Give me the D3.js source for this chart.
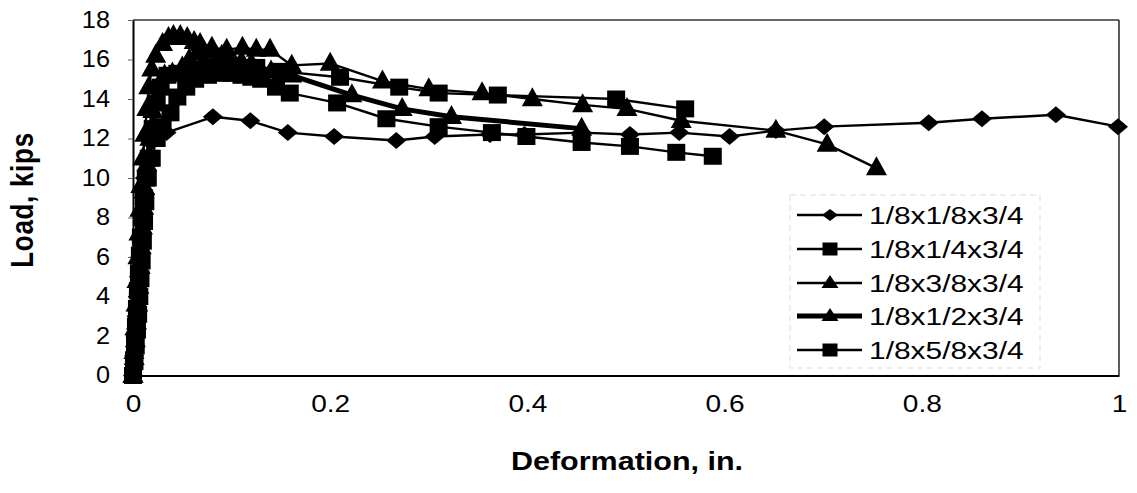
<!DOCTYPE html>
<html><head><meta charset="utf-8">
<script src="https://cdn.jsdelivr.net/npm/d3@7"></script>
<style>
html,body{margin:0;padding:0;background:#fff;}
svg{display:block;font-family:"Liberation Sans",Arial,sans-serif;}
</style></head>
<body><svg id="c" width="1137" height="493"></svg>
<script>
// ---- data (deformation in., load kips) ----
const seriesNames = ["1/8x1/8x3/4","1/8x1/4x3/4","1/8x3/8x3/4","1/8x1/2x3/4","1/8x5/8x3/4"];
const def1 = [0,0.0012,0.0024,0.0036,0.0048,0.006,0.0072,0.0084,0.0096,0.0108,0.012,0.014,0.018,0.034,0.081,0.119,0.157,0.204,0.267,0.306,0.362,0.397,0.455,0.504,0.554,0.605,0.652,0.701,0.807,0.861,0.936,0.999];
const load1= [0,1,2,3,4,5,6,7,8,9,10,11,11.8,12.3,13.1,12.9,12.3,12.1,11.9,12.1,12.2,12.2,12.3,12.2,12.3,12.1,12.4,12.6,12.8,13.0,13.2,12.6];
const def2 = [0,0.001,0.002,0.003,0.004,0.005,0.006,0.007,0.008,0.009,0.011,0.013,0.016,0.020,0.024,0.028,0.035,0.045,0.055,0.065,0.075,0.090,0.105,0.125,0.150,0.210,0.270,0.310,0.370,0.490,0.560];
const load2= [0,0.8,1.6,2.5,3.4,4.3,5.2,6.1,7,8,9,10,11,12.5,13.8,14.6,15.2,15.3,15.4,15.5,15.6,15.8,15.7,15.6,15.4,15.1,14.6,14.3,14.2,14.0,13.5];
const def3 = [0,0.001,0.002,0.003,0.004,0.005,0.006,0.007,0.008,0.010,0.012,0.014,0.016,0.019,0.023,0.030,0.036,0.041,0.048,0.055,0.062,0.068,0.080,0.095,0.111,0.125,0.139,0.161,0.200,0.253,0.300,0.354,0.405,0.456,0.501,0.556,0.652,0.704,0.754];
const load3= [0,1.2,2.4,3.6,4.8,6,7.2,8.4,9.6,11,12.2,13.5,14.6,15.5,16.2,16.8,17.1,17.2,17.2,17.1,16.9,16.8,16.6,16.5,16.6,16.5,16.5,15.7,15.8,14.9,14.5,14.3,14.0,13.7,13.5,12.9,12.4,11.7,10.5];
const def4 = [0,0.0012,0.0024,0.0036,0.0048,0.006,0.0072,0.0084,0.0096,0.0108,0.012,0.014,0.017,0.020,0.025,0.032,0.040,0.050,0.057,0.065,0.072,0.080,0.090,0.100,0.110,0.120,0.140,0.161,0.222,0.273,0.323,0.455];
const load4= [0,0.9,1.8,2.7,3.6,4.5,5.5,6.5,7.5,8.5,9.5,10.7,12,13.4,14.6,15.2,15.3,15.6,16.0,16.3,16.4,16.4,16.2,16.0,15.9,15.8,15.4,15.2,14.2,13.5,13.1,12.5];
const def5 = [0,0.0015,0.0028,0.004,0.0052,0.0064,0.0076,0.0088,0.01,0.0112,0.0125,0.015,0.019,0.024,0.030,0.038,0.045,0.054,0.063,0.076,0.090,0.100,0.110,0.120,0.130,0.145,0.159,0.207,0.257,0.310,0.364,0.399,0.455,0.504,0.551,0.588];
const load5= [0,0.7,1.5,2.3,3.1,4,4.9,5.8,6.8,7.8,8.8,10,11,12,12.6,13.3,14.1,14.6,15.0,15.2,15.3,15.3,15.2,15.1,15.0,14.6,14.3,13.8,13.0,12.6,12.3,12.1,11.8,11.6,11.3,11.1];
const xTicks = [0,0.2,0.4,0.6,0.8,1];
const yTicks = [0,2,4,6,8,10,12,14,16,18];
const markerTypes = ["diamond","square","triangle","triangle","square"];
const lineWidths = [2.4,2.4,2.4,5,2.4];

const series = seriesNames.map((n,i)=>({
  name:n,
  pts:[def1,def2,def3,def4,def5][i].map((d,j)=>({d, l:[load1,load2,load3,load4,load5][i][j]})),
  marker:markerTypes[i], lw:lineWidths[i]
}));

const svg = d3.select("#c");
const L=133, R=1119, T=20, B=375.5;
const x = d3.scaleLinear().domain([0,1]).range([L,R]);
const y = d3.scaleLinear().domain([0,18]).range([B,T]);

function stretch(sel,k){
  sel.each(function(){
    const len=this.getComputedTextLength();
    d3.select(this).attr("textLength",len*k).attr("lengthAdjust","spacingAndGlyphs");
  });
}

// frame (top & right)
svg.append("line").attr("x1",L).attr("x2",R).attr("y1",T).attr("y2",T).attr("stroke","#333").attr("stroke-width",1.6);
svg.append("line").attr("x1",R).attr("x2",R).attr("y1",T).attr("y2",B).attr("stroke","#333").attr("stroke-width",1.6);

// axes
const gy = svg.append("g").attr("transform",`translate(${L},0)`)
  .call(d3.axisLeft(y).tickValues(yTicks).tickSize(5).tickSizeOuter(0).tickPadding(18).tickFormat(d3.format("~g")));
gy.select(".domain").attr("stroke","#000").attr("stroke-width",2);
gy.selectAll(".tick line").attr("stroke","#666").attr("stroke-width",1);
gy.selectAll(".tick text").attr("font-size",23).attr("fill","#000").attr("font-family","Liberation Sans, Arial, sans-serif");
stretch(gy.selectAll(".tick text"),1.1);

const gx = svg.append("g").attr("transform",`translate(0,${B})`)
  .call(d3.axisBottom(x).tickValues(xTicks).tickSize(0).tickSizeOuter(0).tickPadding(20).tickFormat(d3.format("~g")));
gx.select(".domain").attr("stroke","#000").attr("stroke-width",2);
gx.selectAll(".tick text").attr("font-size",23).attr("fill","#000").attr("font-family","Liberation Sans, Arial, sans-serif");
stretch(gx.selectAll(".tick text"),1.22);

// axis titles
svg.append("text").text("Load, kips")
  .attr("transform","translate(33,200) scale(1.22,1) rotate(-90)")
  .attr("text-anchor","middle").attr("font-size",26).attr("font-weight","bold").attr("letter-spacing",0.7);
const xt = svg.append("text").text("Deformation, in.")
  .attr("x",627).attr("y",470).attr("text-anchor","middle").attr("font-size",25).attr("font-weight","bold");
stretch(xt,1.22);

// markers
function markerPath(type, w, h){
  if(type==="square") return `M${-w/2},${-h/2}H${w/2}V${h/2}H${-w/2}Z`;
  if(type==="diamond") return `M0,${-h/2}L${w/2},0L0,${h/2}L${-w/2},0Z`;
  return `M0,${-h*0.62}L${w/2},${h*0.38}L${-w/2},${h*0.38}Z`;
}
const plotSize = {square:[18,17], diamond:[20,17], triangle:[21,19]};
const legSize = {square:[15,13], diamond:[16,12], triangle:[17,13]};

const line = d3.line().x(p=>x(p.d)).y(p=>y(p.l));
const gData = svg.append("g");
series.forEach(s=>{
  gData.append("path").attr("d",line(s.pts)).attr("fill","none").attr("stroke","#000")
    .attr("stroke-width",s.lw).attr("stroke-linejoin","round");
});
series.forEach(s=>{
  const [w,h]=plotSize[s.marker];
  gData.selectAll(null).data(s.pts).enter().append("path")
    .attr("d",markerPath(s.marker,w,h))
    .attr("transform",p=>`translate(${x(p.d)},${y(p.l)})`)
    .attr("fill","#000");
});

// legend
const lg = svg.append("g");
lg.append("rect").attr("x",790).attr("y",195).attr("width",250).attr("height",173)
  .attr("fill","#fff").attr("stroke","#ddd").attr("stroke-width",1).attr("stroke-dasharray","6,4");
const rowY = [215,249,283,316,350];
series.forEach((s,i)=>{
  const yy=rowY[i];
  lg.append("line").attr("x1",797).attr("x2",862).attr("y1",yy).attr("y2",yy)
    .attr("stroke","#000").attr("stroke-width",s.lw);
  const [w,h]=legSize[s.marker];
  lg.append("path").attr("d",markerPath(s.marker,w,h)).attr("transform",`translate(830,${yy})`).attr("fill","#000");
  const t=lg.append("text").text(s.name).attr("x",869).attr("y",yy+8.5).attr("font-size",23);
  stretch(t,1.3);
});
</script></body></html>
